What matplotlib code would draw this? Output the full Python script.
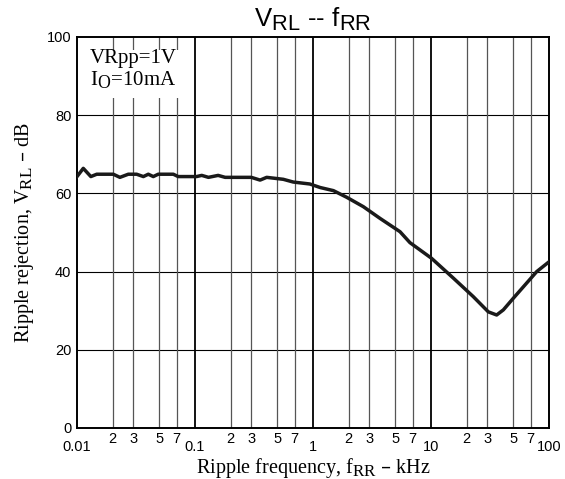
import numpy as np
import matplotlib.pyplot as plt
import matplotlib._mathtext as mathtext_internals
from matplotlib.patches import Rectangle
from matplotlib.ticker import FixedLocator, FixedFormatter

# subscripts in the datasheet are almost full size
mathtext_internals.SHRINK_FACTOR = 0.85

# Ripple rejection curve
freq_khz = [0.01, 0.0113, 0.0131, 0.0147, 0.0203, 0.0231, 0.0272, 0.032, 0.0365,
            0.0402, 0.0443, 0.0488, 0.0655, 0.072, 0.103, 0.114, 0.130, 0.157,
            0.18, 0.30, 0.356, 0.405, 0.56, 0.68, 0.94, 1.15, 1.49, 1.93, 2.67,
            3.70, 5.46, 6.63, 10.1, 15.5, 22.8, 30.6, 36.0, 41.0, 49.9, 78.7, 100]
rejection_db = [64.3, 66.4, 64.3, 64.9, 64.9, 64.1, 64.9, 64.9, 64.3,
                64.9, 64.3, 64.9, 64.9, 64.3, 64.3, 64.6, 64.1, 64.6,
                64.1, 64.1, 63.4, 64.1, 63.6, 62.9, 62.4, 61.5, 60.7, 59.0, 56.6,
                53.6, 50.2, 47.4, 43.4, 38.3, 33.6, 29.7, 28.9, 30.2, 33.2, 40.0, 42.5]

decades = [0.01, 0.1, 1, 10, 100]
decade_labels = ['0.01', '0.1', '1', '10', '100']
minor_steps = [2, 3, 5, 7]
y_ticks = [0, 20, 40, 60, 80, 100]

minor_pos = [d * m for d in decades[:-1] for m in minor_steps]
minor_labels = [str(m) for d in decades[:-1] for m in minor_steps]

sans = ['Liberation Sans', 'DejaVu Sans']
serif = ['Liberation Serif', 'DejaVu Serif']

fig = plt.figure(figsize=(5.65, 4.79), dpi=100)
ax = fig.add_axes([0.1363, 0.1065, 0.8354, 0.8163])

ax.set_xscale('log')
ax.set_xlim(0.01, 100)
ax.set_ylim(0, 100)

# grid
for y in y_ticks[1:-1]:
    ax.axhline(y, color='black', lw=0.8, zorder=1)
for x in minor_pos:
    ax.axvline(x, color='#555555', lw=0.9, zorder=1)
for x in decades[1:-1]:
    ax.axvline(x, color='black', lw=1.3, zorder=1)

# blank area behind the conditions text
ax.add_patch(Rectangle((0.01, 84.5), 0.076, 12.2, facecolor='white',
                       edgecolor='none', zorder=2))

ax.plot(freq_khz, rejection_db, color='#1a1a1a', lw=2.5, zorder=3,
        solid_joinstyle='round')

ax.xaxis.set_major_locator(FixedLocator(decades))
ax.xaxis.set_major_formatter(FixedFormatter(decade_labels))
ax.xaxis.set_minor_locator(FixedLocator(minor_pos))
ax.xaxis.set_minor_formatter(FixedFormatter(minor_labels))
ax.set_yticks(y_ticks)

ax.tick_params(axis='x', which='major', length=0, pad=9, labelsize=10.5)
ax.tick_params(axis='x', which='minor', length=0, pad=3, labelsize=10.5)
ax.tick_params(axis='y', length=0, pad=4, labelsize=10.5)
for lab in ax.get_xticklabels(which='both') + ax.get_yticklabels():
    lab.set_family(sans)

for s in ax.spines.values():
    s.set_linewidth(1.4)

ax.text(0.0129, 93.3, 'VRpp=1V', family=serif, fontsize=15, va='baseline',
        zorder=4)
ax.text(0.0129, 87.7, r'I$_\mathregular{O}$=10mA', family=serif, fontsize=15,
        va='baseline', zorder=4)

ax.set_xlabel(r'Ripple frequency, f$_\mathregular{RR}$ – kHz', family=serif,
              fontsize=14.5, labelpad=1)
ax.set_ylabel(r'Ripple rejection, V$_\mathregular{RL}$ – dB', family=serif,
              fontsize=14.5, labelpad=8)

fig.text(0.553, 0.944, r'V$_\mathregular{RL}$ -- f$_\mathregular{RR}$', family=sans,
         fontsize=18.5, ha='center', va='baseline')

fig.savefig('out.png', dpi=100)
